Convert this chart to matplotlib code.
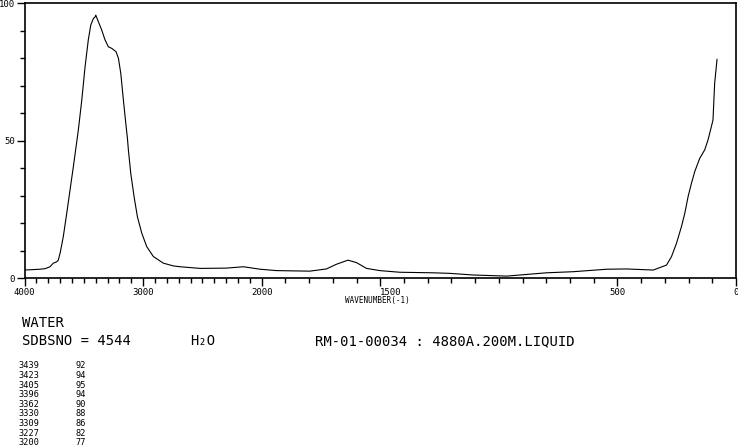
import numpy as np
import matplotlib
matplotlib.use("Agg")
import matplotlib.pyplot as plt

# traced spectrum (wavenumber in cm-1, relative intensity)
wavenumber = [4000, 3869, 3827, 3785, 3757, 3728, 3715, 3700, 3673, 3644,
              3616, 3588, 3565, 3546, 3517, 3489, 3462, 3441, 3419, 3405,
              3399, 3377, 3349, 3321, 3293, 3264, 3228, 3208, 3188, 3166,
              3146, 3132, 3124, 3104, 3076, 3048, 3011, 2969, 2913, 2829,
              2744, 2688, 2519, 2300, 2154, 2013, 1938, 1797, 1727, 1685,
              1636, 1600, 1558, 1502, 1418, 1278, 1207, 1108, 967, 911,
              799, 686, 545, 461, 349, 321, 293, 272, 251, 230,
              216, 202, 188, 174, 153, 132, 118, 104, 97, 90, 80]
intensity = [3.0, 3.3, 3.5, 4.2, 5.5, 6.0, 6.6, 9.1, 15.1, 23.6,
             32.1, 40.6, 47.9, 53.9, 64.8, 77.0, 86.7, 92.1, 94.5, 95.0,
             95.7, 93.3, 90.3, 86.7, 84.2, 83.6, 82.4, 80.0, 74.5, 64.8,
             56.4, 50.9, 46.7, 38.2, 29.7, 22.4, 16.4, 11.5, 7.9, 5.5,
             4.5, 4.2, 3.6, 3.7, 4.2, 3.3, 2.8, 2.6, 3.4, 5.1,
             6.6, 5.7, 3.6, 2.8, 2.2, 2.0, 1.8, 1.2, 0.8, 1.2,
             2.0, 2.4, 3.3, 3.4, 3.0, 3.9, 4.8, 7.9, 12.7, 18.8,
             23.6, 29.7, 34.5, 38.8, 43.6, 46.7, 50.3, 55.1, 57.6, 70.9, 79.6]

x_major = [4000, 3000, 2000, 1500, 500, 0]
y_major = [0, 50, 100]

peak_wn = [3439, 3423, 3405, 3396, 3362, 3330, 3309, 3227, 3200]
peak_int = [92, 94, 95, 94, 90, 88, 86, 82, 77]

W, H = 738, 447


def fwd(w):
    w = np.asarray(w, dtype=float)
    return np.where(w >= 2000, w + 2000, 2 * w)


def inv(u):
    u = np.asarray(u, dtype=float)
    return np.where(u >= 4000, u - 2000, u / 2)


fig = plt.figure(figsize=(W / 100, H / 100), dpi=100)
left, right, top, bottom = 24.5, 736, 3.3, 278.3
ax = fig.add_axes([left / W, 1 - bottom / H, (right - left) / W, (bottom - top) / H])

ax.plot(wavenumber, intensity, color="black", linewidth=0.8)
ax.set_xscale("function", functions=(fwd, inv))
ax.set_xlim(4000, 0)
ax.set_ylim(0, 100)

mono = "DejaVu Sans Mono"
ax.set_xticks(x_major)
ax.set_xticklabels([str(v) for v in x_major], fontsize=6.5, family=mono)
ax.set_xticks(np.arange(0, 4001, 100), minor=True)
ax.set_yticks(y_major)
ax.set_yticklabels([str(v) for v in y_major], fontsize=6.5, family=mono)
ax.set_yticks(np.arange(0, 101, 10), minor=True)
ax.tick_params(axis="both", which="major", direction="out", length=6, width=1, pad=1)
ax.tick_params(axis="both", which="minor", direction="out", length=3.5, width=1)
for lab in ax.get_xticklabels():
    if lab.get_text() == "1500":
        lab.set_horizontalalignment("left")
for s in ax.spines.values():
    s.set_linewidth(1.2)

def put(x, y, s, size, **kw):
    fig.text(x / W, 1 - y / H, s, fontsize=size, family=mono, va="center", **kw)

put(345, 300, "WAVENUMBER(-1)", 5.5)
put(22, 323, "WATER", 10)
put(22, 341, "SDBSNO = 4544", 10)
put(190, 341, "H\u2082O", 10)
put(315, 341, "RM-01-00034 : 4880A.200M.LIQUID", 10)

for i, (wn, it) in enumerate(zip(peak_wn, peak_int)):
    put(18, 366 + i * 9.6, str(wn), 6.2)
    put(75, 366 + i * 9.6, str(it), 6.2)

fig.savefig("out.png", dpi=100)
